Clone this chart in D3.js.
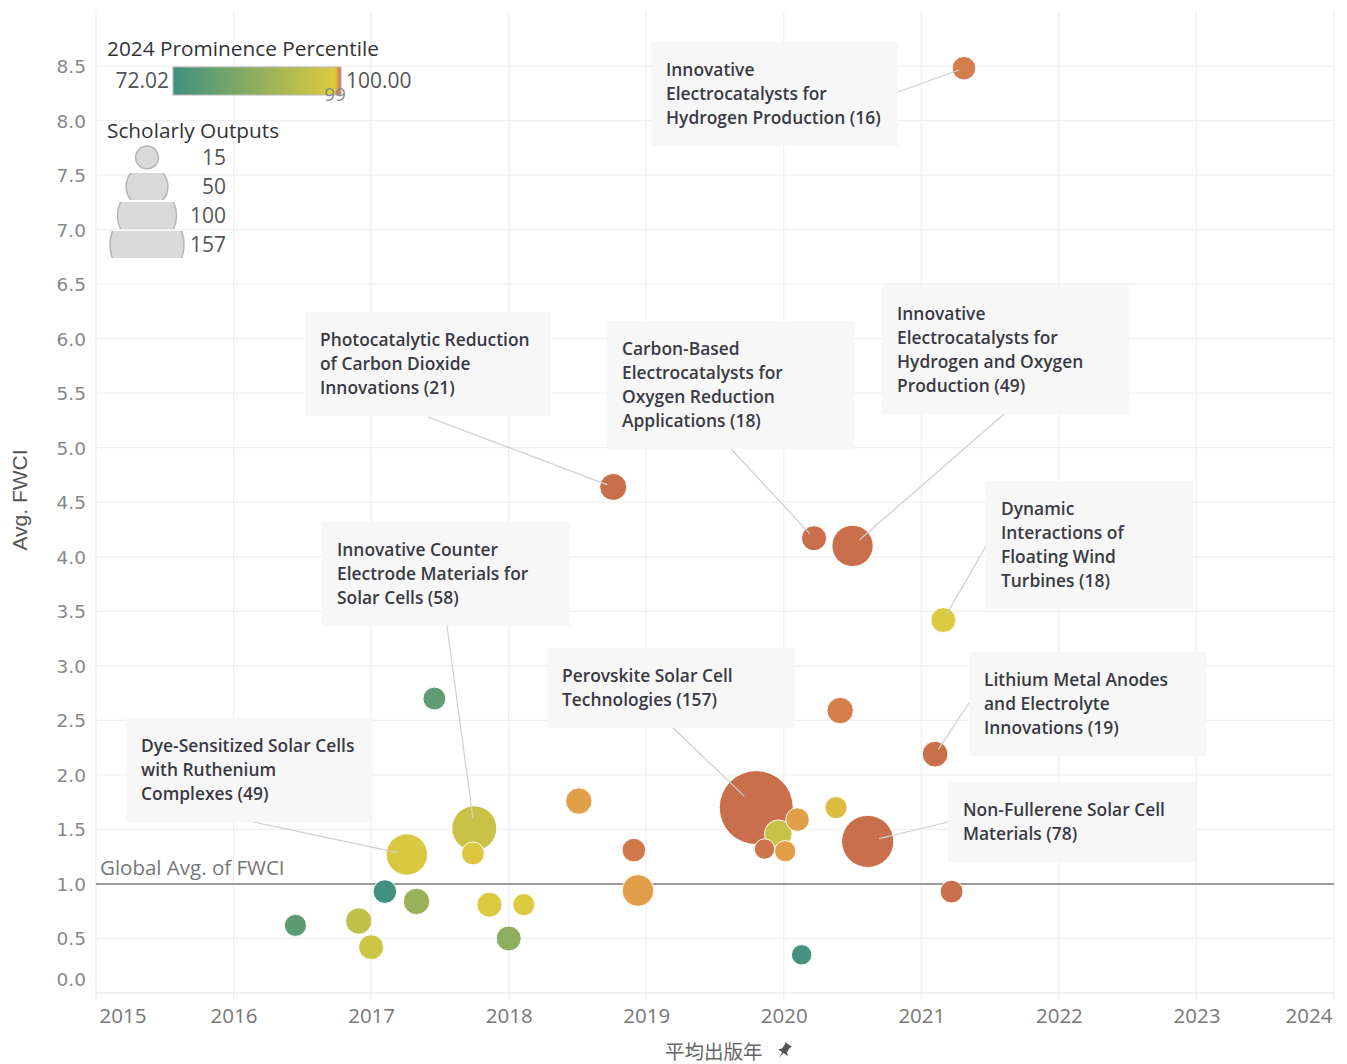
<!DOCTYPE html>
<html>
<head>
<meta charset="utf-8">
<script src="https://cdn.jsdelivr.net/npm/d3@7"></script>
<style>
  body { margin: 0; background: #fff; }
  svg { display: block; }
</style>
</head>
<body>
<div id="chart"></div>
<script>
// --- data ---
var topicNames = [
  "Innovative Electrocatalysts for Hydrogen Production",
  "Photocatalytic Reduction of Carbon Dioxide Innovations",
  "Carbon-Based Electrocatalysts for Oxygen Reduction Applications",
  "Innovative Electrocatalysts for Hydrogen and Oxygen Production",
  "Dynamic Interactions of Floating Wind Turbines",
  "", "",
  "Lithium Metal Anodes and Electrolyte Innovations",
  "",
  "Perovskite Solar Cell Technologies",
  "", "", "", "", "",
  "Non-Fullerene Solar Cell Materials",
  "", "", "", "",
  "Dye-Sensitized Solar Cells with Ruthenium Complexes",
  "Innovative Counter Electrode Materials for Solar Cells",
  "", "", "", "", "", "", "", "", ""
];
var pubYear = [2021.31, 2018.76, 2020.22, 2020.50, 2021.16, 2017.46, 2020.41, 2021.10, 2018.51, 2019.80,
               2020.38, 2020.10, 2019.96, 2019.86, 2020.01, 2020.61, 2018.91, 2018.94, 2021.22, 2020.13,
               2017.26, 2017.75, 2017.74, 2017.10, 2017.33, 2017.86, 2018.11, 2016.45, 2016.91, 2017.00, 2018.00];
var avgFwci = [8.48, 4.64, 4.17, 4.10, 3.42, 2.70, 2.59, 2.19, 1.76, 1.70,
               1.70, 1.59, 1.46, 1.32, 1.30, 1.39, 1.31, 0.94, 0.93, 0.35,
               1.27, 1.51, 1.28, 0.93, 0.84, 0.81, 0.81, 0.62, 0.66, 0.42, 0.50];
var outputs = [16, 21, 18, 49, 18, 15, 20, 19, 20, 157,
               14, 16, 22, 12, 13, 78, 16, 29, 15, 12,
               49, 58, 15, 16, 20, 18, 14, 14, 20, 18, 18];
var percentile = [99.75, 99.9, 99.9, 99.9, 99.0, 77.5, 99.75, 99.9, 99.45, 99.9,
                  99.15, 99.45, 95.5, 99.85, 99.45, 99.9, 99.8, 99.45, 99.9, 73.0,
                  98.3, 95.5, 99.05, 72.5, 87.7, 98.5, 99.0, 77.0, 94.0, 96.3, 85.5];

var yTicks = [0, 0.5, 1, 1.5, 2, 2.5, 3, 3.5, 4, 4.5, 5, 5.5, 6, 6.5, 7, 7.5, 8, 8.5];
var xTicks = [2015, 2016, 2017, 2018, 2019, 2020, 2021, 2022, 2023, 2024];
var globalAvgFwci = 1.0;
var pctMin = 72.02, pctMax = 100.00, pctMid = 99;
var sizeLegendValues = [15, 50, 100, 157];

// --- annotation layout (pixels): box left/top/width, leader start, words per line ---
var annotations = [
  {i: 0,  x: 651, y: 42,  w: 247, lx: 898,  ly: 92,  words: [1, 2, 2]},
  {i: 1,  x: 305, y: 312, w: 246, lx: 428,  ly: 417, words: [2, 3, 1]},
  {i: 2,  x: 607, y: 321, w: 247, lx: 731,  ly: 449, words: [1, 2, 2, 1]},
  {i: 3,  x: 882, y: 286, w: 247, lx: 1004, ly: 414, words: [1, 2, 3, 1]},
  {i: 4,  x: 986, y: 481, w: 207, lx: 986,  ly: 546, words: [1, 2, 2, 1]},
  {i: 7,  x: 969, y: 652, w: 237, lx: 969,  ly: 703, words: [3, 2, 1]},
  {i: 9,  x: 547, y: 648, w: 248, lx: 671,  ly: 726, words: [3, 1]},
  {i: 15, x: 948, y: 782, w: 248, lx: 948,  ly: 822, words: [3, 1]},
  {i: 20, x: 126, y: 718, w: 247, lx: 249,  ly: 821, words: [3, 2, 1]},
  {i: 21, x: 322, y: 522, w: 248, lx: 447,  ly: 626, words: [2, 3, 2]}
];

var width = 1347, height = 1064;
var plotL = 96, plotR = 1334, plotT = 11.5, plotB = 993;

var svg = d3.select("#chart").append("svg")
    .attr("width", width).attr("height", height);

var x = d3.scaleLinear().domain([2015, 2024]).range([plotL, plotR]);
var y = d3.scaleLinear().domain([0, 9]).range([plotB, plotT]);
var r = d3.scaleSqrt().domain([0, 157]).range([0, 37]);
var color = d3.scaleLinear()
    .domain([pctMin, pctMid, 99.5, pctMax])
    .range(["#3f9080", "#dccb3e", "#e39a4b", "#c4644b"])
    .interpolate(d3.interpolateRgb);

var tickFont = "'Open Sans', sans-serif";

// grid
svg.append("g").selectAll("line")
    .data(xTicks)
  .enter().append("line")
    .attr("x1", function(d) { return x(d); })
    .attr("x2", function(d) { return x(d); })
    .attr("y1", plotT).attr("y2", plotB + 8)
    .attr("stroke", "#efefef").attr("stroke-width", 1.2);

svg.append("g").selectAll("line")
    .data(yTicks.filter(function(d) { return d > 0; }))
  .enter().append("line")
    .attr("x1", plotL).attr("x2", plotR)
    .attr("y1", function(d) { return y(d); })
    .attr("y2", function(d) { return y(d); })
    .attr("stroke", "#efefef").attr("stroke-width", 1.2);

// bottom axis line
svg.append("line")
    .attr("x1", plotL).attr("x2", plotR)
    .attr("y1", plotB).attr("y2", plotB)
    .attr("stroke", "#e3e3e3").attr("stroke-width", 1.2);

// y axis labels
var yAxis = svg.append("g")
    .attr("transform", "translate(" + (plotL - 10) + ",0)")
    .call(d3.axisLeft(y).tickValues(yTicks).tickSize(0).tickFormat(d3.format(".1f")));
yAxis.select(".domain").remove();
yAxis.selectAll("text")
    .attr("x", 0)
    .attr("font-family", "'DejaVu Sans', sans-serif")
    .attr("font-size", 18.5)
    .attr("fill", "#888")
    .attr("dy", "0.35em")
    .attr("y", function(d) { return d === 0 ? -14 : 0; });

// x axis labels
var xAxis = svg.append("g")
    .attr("transform", "translate(0," + (plotB + 23) + ")")
    .call(d3.axisBottom(x).tickValues(xTicks).tickSize(0).tickFormat(d3.format("d")));
xAxis.select(".domain").remove();
xAxis.selectAll("text")
    .attr("y", 0)
    .attr("dy", "0.35em")
    .attr("font-family", tickFont)
    .attr("font-size", 20.5)
    .attr("fill", "#777")
    .attr("text-anchor", function(d) { return d === 2015 ? "start" : (d === 2024 ? "end" : "middle"); })
    .attr("x", function(d) { return d === 2015 ? 3 : (d === 2024 ? -2 : 0); });

// axis titles
svg.append("text")
    .attr("transform", "translate(27,500) rotate(-90)")
    .attr("text-anchor", "middle")
    .attr("font-family", "'Liberation Sans Narrow', 'Liberation Sans', sans-serif")
    .attr("font-size", 21)
    .attr("fill", "#555")
    .text("Avg. FWCI");

svg.append("text")
    .attr("x", 665).attr("y", 1059)
    .attr("font-family", "'Noto Sans CJK JP', 'Noto Sans CJK SC', sans-serif")
    .attr("font-size", 19.5)
    .attr("fill", "#666")
    .text("平均出版年");
// pin icon
svg.append("path")
    .attr("transform", "translate(784,1051) rotate(35)")
    .attr("d", "M-4,-8 L4,-8 L3,-6 L3,-1 L6,2 L0.8,2 L0,9 L-0.8,2 L-6,2 L-3,-1 L-3,-6 Z")
    .attr("fill", "#555");

// global average reference line
svg.append("line")
    .attr("x1", plotL).attr("x2", plotR)
    .attr("y1", y(globalAvgFwci)).attr("y2", y(globalAvgFwci))
    .attr("stroke", "#9a9a9a").attr("stroke-width", 2);
svg.append("text")
    .attr("x", plotL + 4).attr("y", y(globalAvgFwci) - 9)
    .attr("font-family", tickFont)
    .attr("font-size", 20.5)
    .attr("fill", "#777")
    .text("Global Avg. of FWCI");

// bubbles
var points = pubYear.map(function(d, i) {
  return {i: i, year: d, fwci: avgFwci[i], n: outputs[i], pct: percentile[i], name: topicNames[i]};
});
points.sort(function(a, b) { return b.n - a.n; });

svg.append("g").selectAll("circle")
    .data(points)
  .enter().append("circle")
    .attr("cx", function(d) { return x(d.year); })
    .attr("cy", function(d) { return y(d.fwci); })
    .attr("r", function(d) { return r(d.n); })
    .attr("fill", function(d) { return color(d.pct); })
    .attr("stroke", "#fff").attr("stroke-width", 1);

// annotations
var lineH = 24;
var ann = svg.append("g");
annotations.forEach(function(a) {
  var words = topicNames[a.i].split(" ");
  var lines = [], k = 0;
  a.words.forEach(function(c) { lines.push(words.slice(k, k + c).join(" ")); k += c; });
  lines[lines.length - 1] += " (" + outputs[a.i] + ")";
  var h = 32 + lineH * lines.length;

  var cx = x(pubYear[a.i]), cy = y(avgFwci[a.i]);
  var dx = a.lx - cx, dy = a.ly - cy, dist = Math.sqrt(dx * dx + dy * dy);
  var stop = 0.45 * r(outputs[a.i]);
  ann.append("line")
      .attr("x1", a.lx).attr("y1", a.ly)
      .attr("x2", cx + dx / dist * stop).attr("y2", cy + dy / dist * stop)
      .attr("stroke", "#cfcfcf").attr("stroke-width", 1.2);

  ann.append("rect")
      .attr("x", a.x).attr("y", a.y)
      .attr("width", a.w).attr("height", h)
      .attr("fill", "#f7f7f7").attr("fill-opacity", 0.95);

  ann.append("text")
      .attr("font-family", tickFont)
      .attr("font-weight", 600)
      .attr("font-size", 17.4)
      .attr("fill", "#3a3a44")
    .selectAll("tspan")
      .data(lines)
    .enter().append("tspan")
      .attr("x", a.x + 15)
      .attr("y", function(d, j) { return a.y + 34 + j * lineH; })
      .text(function(d) { return d; });
});

// colour legend
var leg = svg.append("g");
leg.append("text")
    .attr("x", 107).attr("y", 56)
    .attr("font-family", tickFont).attr("font-size", 20.8).attr("fill", "#333")
    .text("2024 Prominence Percentile");

var barX = 173, barY = 67, barW = 168, barH = 28;
var grad = svg.append("defs").append("linearGradient")
    .attr("id", "pctGrad").attr("x1", "0%").attr("x2", "100%");
d3.range(0, 1.0001, 0.01).forEach(function(t) {
  grad.append("stop")
      .attr("offset", (t * 100) + "%")
      .attr("stop-color", color(pctMin + t * (pctMax - pctMin)));
});
leg.append("rect")
    .attr("x", barX).attr("y", barY).attr("width", barW).attr("height", barH)
    .attr("fill", "url(#pctGrad)")
    .attr("stroke", "#b8b8b8").attr("stroke-width", 1);
var barScale = d3.scaleLinear().domain([pctMin, pctMax]).range([barX, barX + barW]);
leg.append("text")
    .attr("x", barX - 4).attr("y", 88).attr("text-anchor", "end")
    .attr("font-family", tickFont).attr("font-size", 21).attr("fill", "#555")
    .text(d3.format(".2f")(pctMin));
leg.append("text")
    .attr("x", barX + barW + 5).attr("y", 88)
    .attr("font-family", tickFont).attr("font-size", 21).attr("fill", "#555")
    .text(d3.format(".2f")(pctMax));
leg.append("text")
    .attr("x", barScale(pctMid)).attr("y", 101).attr("text-anchor", "middle")
    .attr("font-family", tickFont).attr("font-size", 19).attr("fill", "#888")
    .text(pctMid);

// size legend
leg.append("text")
    .attr("x", 107).attr("y", 138)
    .attr("font-family", tickFont).attr("font-size", 20.8).attr("fill", "#333")
    .text("Scholarly Outputs");

var rowH = 29, row0 = 157.5;
var defs = svg.select("defs");
sizeLegendValues.forEach(function(v, j) {
  var cyRow = row0 + j * rowH;
  defs.append("clipPath").attr("id", "sclip" + j)
    .append("rect")
      .attr("x", 100).attr("y", cyRow - rowH / 2 + 1)
      .attr("width", 100).attr("height", rowH - 2);
  leg.append("circle")
      .attr("clip-path", "url(#sclip" + j + ")")
      .attr("cx", 147).attr("cy", cyRow)
      .attr("r", r(v))
      .attr("fill", "#d9d9d9")
      .attr("stroke", "#b5b5b5").attr("stroke-width", 1.5);
  leg.append("text")
      .attr("x", 226).attr("y", cyRow).attr("dy", "0.35em")
      .attr("text-anchor", "end")
      .attr("font-family", tickFont).attr("font-size", 21).attr("fill", "#555")
      .text(v);
});
</script>
</body>
</html>
